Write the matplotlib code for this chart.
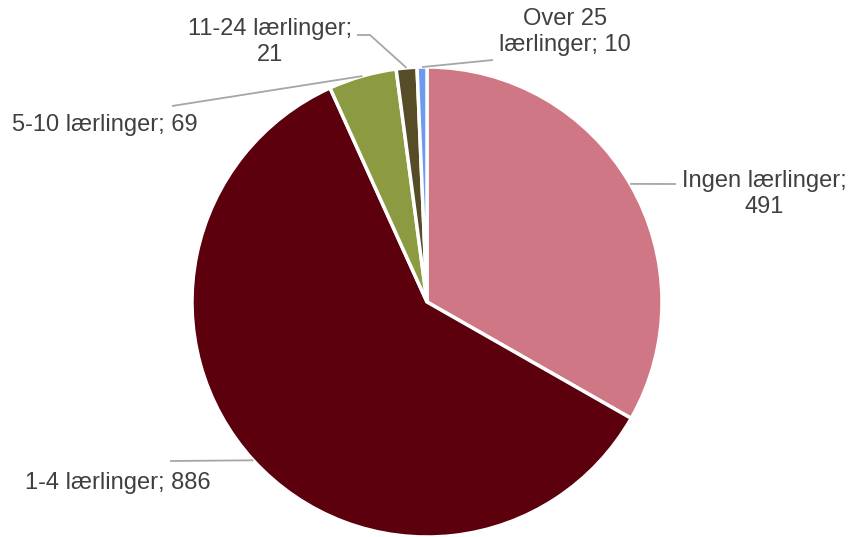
import numpy as np
import matplotlib
matplotlib.use("Agg")
import matplotlib.pyplot as plt

plt.rcParams['font.family'] = ['Liberation Sans', 'DejaVu Sans']

labels = ["Ingen lærlinger", "1-4 lærlinger", "5-10 lærlinger", "11-24 lærlinger", "Over 25 lærlinger"]
values = [491, 886, 69, 21, 10]
colors = ["#CF7784", "#5C000E", "#8C9A42", "#564C28", "#6C9AEE"]

# label text as it is wrapped in the chart
label_texts = ["Ingen lærlinger;\n491", "1-4 lærlinger; 886", "5-10 lærlinger; 69",
               "11-24 lærlinger;\n21", "Over 25\nlærlinger; 10"]

W, H = 856, 537
fig = plt.figure(figsize=(W / 100, H / 100), dpi=100)
ax = fig.add_axes([0, 0, 1, 1])

cx, cy, r = 427, H - 302, 235
wedges, _ = ax.pie(values, colors=colors, startangle=90, counterclock=False,
                   radius=r, center=(cx, cy), frame=True,
                   wedgeprops=dict(edgecolor='white', linewidth=2.5))
ax.set_xlim(0, W)
ax.set_ylim(0, H)
ax.set_aspect('equal')
ax.axis('off')

# label layout: text anchor (image px), alignment, leader path end points (image px)
text_pos = [(764, 194, 'center'), (25, 483, 'left'), (12, 125, 'left'),
            (270, 42, 'center'), (565, 32, 'center')]
leader_pts = [[(676, 184)], [(170, 461)], [(172, 106)],
              [(370, 35), (357, 35)], [(493, 60)]]

for w, txt, (tx, ty, ha), pts in zip(wedges, label_texts, text_pos, leader_pts):
    mid = np.deg2rad((w.theta1 + w.theta2) / 2)
    ex = cx + r * np.cos(mid)
    ey = cy + r * np.sin(mid)
    xs = [ex] + [p[0] for p in pts]
    ys = [ey] + [H - p[1] for p in pts]
    ax.plot(xs, ys, color='#A6A6A6', lw=1.3, solid_capstyle='butt')
    ax.text(tx, H - ty, txt, ha=ha, va='center', fontsize=17, color='#404040',
            linespacing=1.18, multialignment='center')

fig.savefig("out.png", dpi=100)
